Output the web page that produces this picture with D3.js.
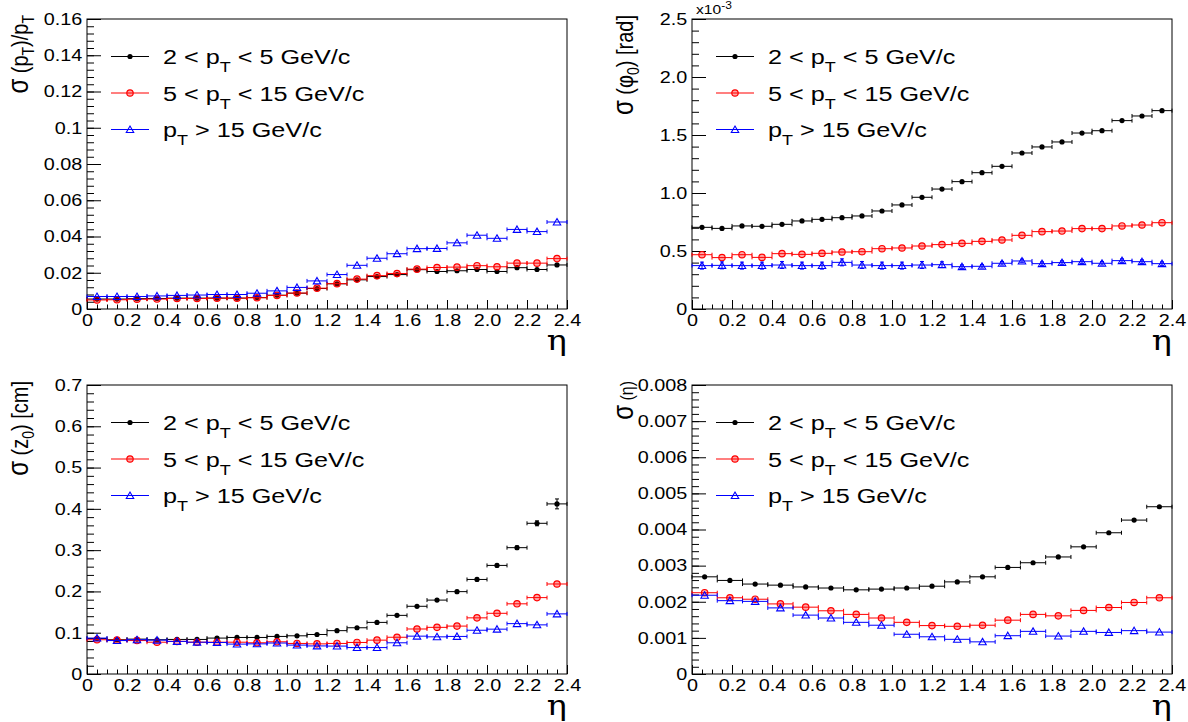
<!DOCTYPE html>
<html lang="en">
<head>
<meta charset="UTF-8">
<title>Track parameter resolution vs eta</title>
<script src="https://d3js.org/d3.v7.min.js"></script>
<style>
  body { margin: 0; background: #fff; }
  svg { display: block; font-family: "Liberation Sans", Arial, sans-serif; }
  .frame { fill: none; stroke: #000; stroke-width: 1; }
  .tick text { font-size: 16.5px; fill: #000; }
  .tick line { stroke: #000; }
  .domain { display: none; }
</style>
</head>
<body>
<svg width="1188" height="722"></svg>
<script>
// the picture is a little wider than tall text would be, so text gets stretched
const textStretch = 1.2;

// legend entries: text before subscript, subscript, text after
const legendParts = [
  ["2 < p", "T", " < 5 GeV/c"],
  ["5 < p", "T", " < 15 GeV/c"],
  ["p", "T", " > 15 GeV/c"]
];

// sigma(pT)/pT, 24 bins in eta
const ptResLow  = [0.0055, 0.0055, 0.0057, 0.0058, 0.0060, 0.0060, 0.0060, 0.0060, 0.0063, 0.0076, 0.0087, 0.0113,
                   0.0139, 0.0161, 0.0179, 0.0190, 0.0217, 0.0207, 0.0211, 0.0218, 0.0207, 0.0228, 0.0218, 0.0243];
const ptResMid  = [0.0050, 0.0051, 0.0054, 0.0055, 0.0058, 0.0058, 0.0060, 0.0060, 0.0062, 0.0075, 0.0088, 0.0115,
                   0.0140, 0.0165, 0.0184, 0.0196, 0.0220, 0.0229, 0.0231, 0.0239, 0.0233, 0.0253, 0.0253, 0.0278];
const ptResHigh = [0.0069, 0.0069, 0.0069, 0.0072, 0.0075, 0.0077, 0.0080, 0.0080, 0.0087, 0.0100, 0.0119, 0.0155,
                   0.0190, 0.0241, 0.0280, 0.0305, 0.0333, 0.0334, 0.0365, 0.0407, 0.0390, 0.0439, 0.0427, 0.0480];

// sigma(phi0) in 1e-3 rad, 24 bins
const phiLow  = [0.704, 0.695, 0.716, 0.713, 0.730, 0.759, 0.773, 0.787, 0.802, 0.845, 0.897, 0.963,
                 1.034, 1.098, 1.175, 1.230, 1.345, 1.397, 1.440, 1.517, 1.537, 1.624, 1.664, 1.710];
const phiMid  = [0.468, 0.443, 0.468, 0.445, 0.477, 0.471, 0.480, 0.491, 0.494, 0.520, 0.526, 0.543,
                 0.555, 0.566, 0.583, 0.595, 0.635, 0.667, 0.672, 0.693, 0.693, 0.716, 0.724, 0.744];
const phiHigh = [0.374, 0.376, 0.374, 0.374, 0.379, 0.374, 0.374, 0.402, 0.379, 0.374, 0.374, 0.379,
                 0.382, 0.365, 0.368, 0.394, 0.414, 0.391, 0.400, 0.408, 0.394, 0.417, 0.408, 0.391];
const phiHighErr = [0.03, 0.03, 0.03, 0.03, 0.03, 0.03, 0.03, 0.03, 0.03, 0.03, 0.03, 0.03,
                    0.025, 0.015, 0.015, 0.015, 0.015, 0.015, 0.015, 0.015, 0.015, 0.015, 0.015, 0.015];

// sigma(z0) in cm, 24 bins
const z0Low  = [0.086, 0.083, 0.0845, 0.083, 0.0837, 0.0837, 0.087, 0.0885, 0.0885, 0.091, 0.0925, 0.0957,
                0.105, 0.112, 0.125, 0.142, 0.164, 0.179, 0.1995, 0.229, 0.263, 0.306, 0.365, 0.412];
const z0LowErr = [0.002, 0.002, 0.002, 0.002, 0.002, 0.002, 0.002, 0.002, 0.002, 0.002, 0.002, 0.002,
                  0.002, 0.002, 0.002, 0.002, 0.002, 0.002, 0.003, 0.003, 0.003, 0.004, 0.006, 0.012];
const z0Mid  = [0.083, 0.082, 0.081, 0.077, 0.079, 0.077, 0.077, 0.077, 0.0756, 0.078, 0.074, 0.073,
                0.074, 0.0764, 0.082, 0.089, 0.109, 0.113, 0.116, 0.136, 0.147, 0.170, 0.185, 0.218];
const z0High = [0.087, 0.081, 0.083, 0.082, 0.079, 0.077, 0.0764, 0.0724, 0.073, 0.075, 0.070, 0.068,
                0.0676, 0.064, 0.064, 0.0756, 0.0917, 0.090, 0.091, 0.106, 0.1086, 0.122, 0.119, 0.1456];

// sigma(eta), 19 bins
const etaLow  = [0.00269, 0.00259, 0.00249, 0.00246, 0.00241, 0.00238, 0.00233, 0.00235, 0.00238, 0.00243,
                 0.00255, 0.00269, 0.00295, 0.00308, 0.00324, 0.00352, 0.00391, 0.00426, 0.00463];
const etaMid  = [0.00225, 0.00211, 0.00207, 0.00194, 0.00185, 0.00175, 0.00165, 0.00155, 0.00143, 0.00134,
                 0.00132, 0.00135, 0.00149, 0.00165, 0.00161, 0.00176, 0.00184, 0.00198, 0.00211];
const etaHigh = [0.00218, 0.00203, 0.00201, 0.00183, 0.00163, 0.00155, 0.00143, 0.00135, 0.00110, 0.00103,
                 0.00096, 0.00089, 0.00106, 0.00118, 0.00105, 0.00118, 0.00115, 0.00120, 0.00116];

const xTicks = [0, 0.2, 0.4, 0.6, 0.8, 1.0, 1.2, 1.4, 1.6, 1.8, 2.0, 2.2, 2.4];

const panels = [
  { box: [87, 567, 19, 309], nBins: 24, yMax: 0.16, yStep: 0.02, yMinor: 0.004,
    yFmt: d3.format("~g"),
    title: [["σ", 0, 1], [" (p"], ["T", 1], [")/p"], ["T", 1]],
    series: [ptResLow, ptResMid, ptResHigh], errs: [null, null, null] },
  { box: [692, 1172, 19, 309], nBins: 24, yMax: 2.5, yStep: 0.5, yMinor: 0.1,
    yFmt: d => d === 0 ? "0" : d3.format(".1f")(d), expo: true,
    title: [["σ", 0, 1], [" (φ"], ["0", 1], [") [rad]"]],
    series: [phiLow, phiMid, phiHigh], errs: [null, null, phiHighErr] },
  { box: [87, 567, 385, 674], nBins: 24, yMax: 0.7, yStep: 0.1, yMinor: 0.02,
    yFmt: d3.format("~g"),
    title: [["σ", 0, 1], [" (z"], ["0", 1], [") [cm]"]],
    series: [z0Low, z0Mid, z0High], errs: [z0LowErr, null, null] },
  { box: [692, 1172, 385, 674], nBins: 19, yMax: 0.008, yStep: 0.001, yMinor: 0.0002,
    yFmt: d3.format("~g"),
    title: [["σ", 0, 1], [" (η)", 0, 0, 16]],
    series: [etaLow, etaMid, etaHigh], errs: [null, null, null] }
];

const colors = ["#000000", "#ff0000", "#0000ff"];

const svg = d3.select("svg");

function drawMarker(g, i, cx, cy) {
  if (i === 0) {
    g.append("circle").attr("cx", cx).attr("cy", cy).attr("r", 2.6).attr("fill", colors[0]).attr("stroke", "none");
  } else if (i === 1) {
    g.append("circle").attr("cx", cx).attr("cy", cy).attr("r", 3.2)
      .attr("fill", "rgba(255,0,0,0.35)").attr("stroke", colors[1]).attr("stroke-width", 1.2);
  } else {
    g.append("path").attr("d", d3.symbol(d3.symbolTriangle, 24)())
      .attr("transform", `translate(${cx},${cy + 0.8})`)
      .attr("fill", "none").attr("stroke", colors[2]).attr("stroke-width", 1.1);
  }
}

panels.forEach(p => {
  const [x0, x1, y0, y1] = p.box;
  const x = d3.scaleLinear().domain([0, 2.4]).range([x0, x1]);
  const y = d3.scaleLinear().domain([0, p.yMax]).range([y1, y0]);
  const g = svg.append("g");

  // axes, ticks pointing into the frame
  const yMaj = d3.range(0, p.yMax + p.yStep / 2, p.yStep);
  const yMin = d3.range(0, p.yMax + p.yMinor / 2, p.yMinor);
  g.append("g").attr("transform", `translate(${x0},0)`)
    .call(d3.axisLeft(y).tickValues(yMin).tickSize(-7).tickFormat(""));
  g.append("g").attr("transform", `translate(${x0},0)`)
    .call(d3.axisLeft(y).tickValues(yMaj).tickSize(-14).tickPadding(4).tickFormat(p.yFmt));

  const xMin = d3.range(0, 2.4 + 0.025, 0.05);
  g.append("g").attr("transform", `translate(0,${y1})`)
    .call(d3.axisBottom(x).tickValues(xMin).tickSize(-4.5).tickFormat(""));
  g.append("g").attr("transform", `translate(0,${y1})`)
    .call(d3.axisBottom(x).tickValues(xTicks).tickSize(-9).tickPadding(5)
      .tickFormat(d => d === 0 ? "0" : d3.format(".1f")(d)));

  g.selectAll(".tick text").attr("transform", `scale(${textStretch},1)`);

  g.append("rect").attr("class", "frame")
    .attr("x", x0).attr("y", y0).attr("width", x1 - x0).attr("height", y1 - y0);

  // data
  const edges = d3.range(p.nBins + 1).map(i => i * 2.4 / p.nBins);
  p.series.forEach((vals, si) => {
    const sg = g.append("g").attr("stroke", colors[si]).attr("stroke-width", 1);
    vals.forEach((v, b) => {
      const lo = x(edges[b]), hi = x(edges[b + 1]), cx = (lo + hi) / 2, cy = y(v);
      sg.append("line").attr("x1", lo).attr("x2", hi).attr("y1", cy).attr("y2", cy);
      sg.append("line").attr("x1", lo).attr("x2", lo).attr("y1", cy - 2).attr("y2", cy + 2);
      sg.append("line").attr("x1", hi).attr("x2", hi).attr("y1", cy - 2).attr("y2", cy + 2);
      const e = p.errs[si] ? p.errs[si][b] : 0;
      if (e) {
        sg.append("line").attr("x1", cx).attr("x2", cx).attr("y1", y(v - e)).attr("y2", y(v + e));
        sg.append("line").attr("x1", cx - 2).attr("x2", cx + 2).attr("y1", y(v + e)).attr("y2", y(v + e));
        sg.append("line").attr("x1", cx - 2).attr("x2", cx + 2).attr("y1", y(v - e)).attr("y2", y(v - e));
      }
      drawMarker(sg, si, cx, cy);
    });
  });

  // legend
  legendParts.forEach((parts, i) => {
    const ly = y0 + 37.5 + i * 36.5;
    const lg = g.append("g").attr("stroke", colors[i]).attr("stroke-width", 1.2);
    lg.append("line").attr("x1", x0 + 24).attr("x2", x0 + 62).attr("y1", ly).attr("y2", ly);
    drawMarker(lg, i, x0 + 43, ly);
    const t = g.append("text")
      .attr("transform", `translate(${x0 + 76},${ly + 7.5}) scale(${textStretch},1)`)
      .attr("font-size", 21).attr("fill", "#000");
    t.append("tspan").text(parts[0]);
    t.append("tspan").attr("dy", 8).attr("font-size", 15).text(parts[1]);
    t.append("tspan").attr("dy", -8).text(parts[2]);
  });

  // y title, rotated, right-aligned at top of axis
  const tt = g.append("text")
    .attr("transform", `translate(${x0 - 59},${y0 - 4}) scale(${textStretch},1) rotate(-90)`)
    .attr("text-anchor", "end").attr("font-size", 20).attr("fill", "#000");
  let shifted = 0;
  p.title.forEach(([s, sub, big, fs]) => {
    const dy = sub ? 5 - shifted : -shifted;
    shifted = sub ? 5 : 0;
    tt.append("tspan").attr("dy", dy)
      .attr("font-size", big ? 24 : (sub ? 14 : (fs || 20))).text(s);
  });

  // x title
  g.append("text")
    .attr("transform", `translate(${x1},${y1 + 41}) scale(${textStretch},1)`)
    .attr("text-anchor", "end")
    .attr("font-family", "'DejaVu Serif', 'Liberation Serif', serif")
    .attr("font-size", 28).attr("fill", "#000").text("η");

  if (p.expo) {
    const et = g.append("text")
      .attr("transform", `translate(${x0 + 4},${y0 - 5}) scale(${textStretch},1)`)
      .attr("font-size", 13).attr("fill", "#000");
    et.append("tspan").text("x10");
    et.append("tspan").attr("dy", -5).attr("font-size", 10).text("-3");
  }
});
</script>
</body>
</html>
